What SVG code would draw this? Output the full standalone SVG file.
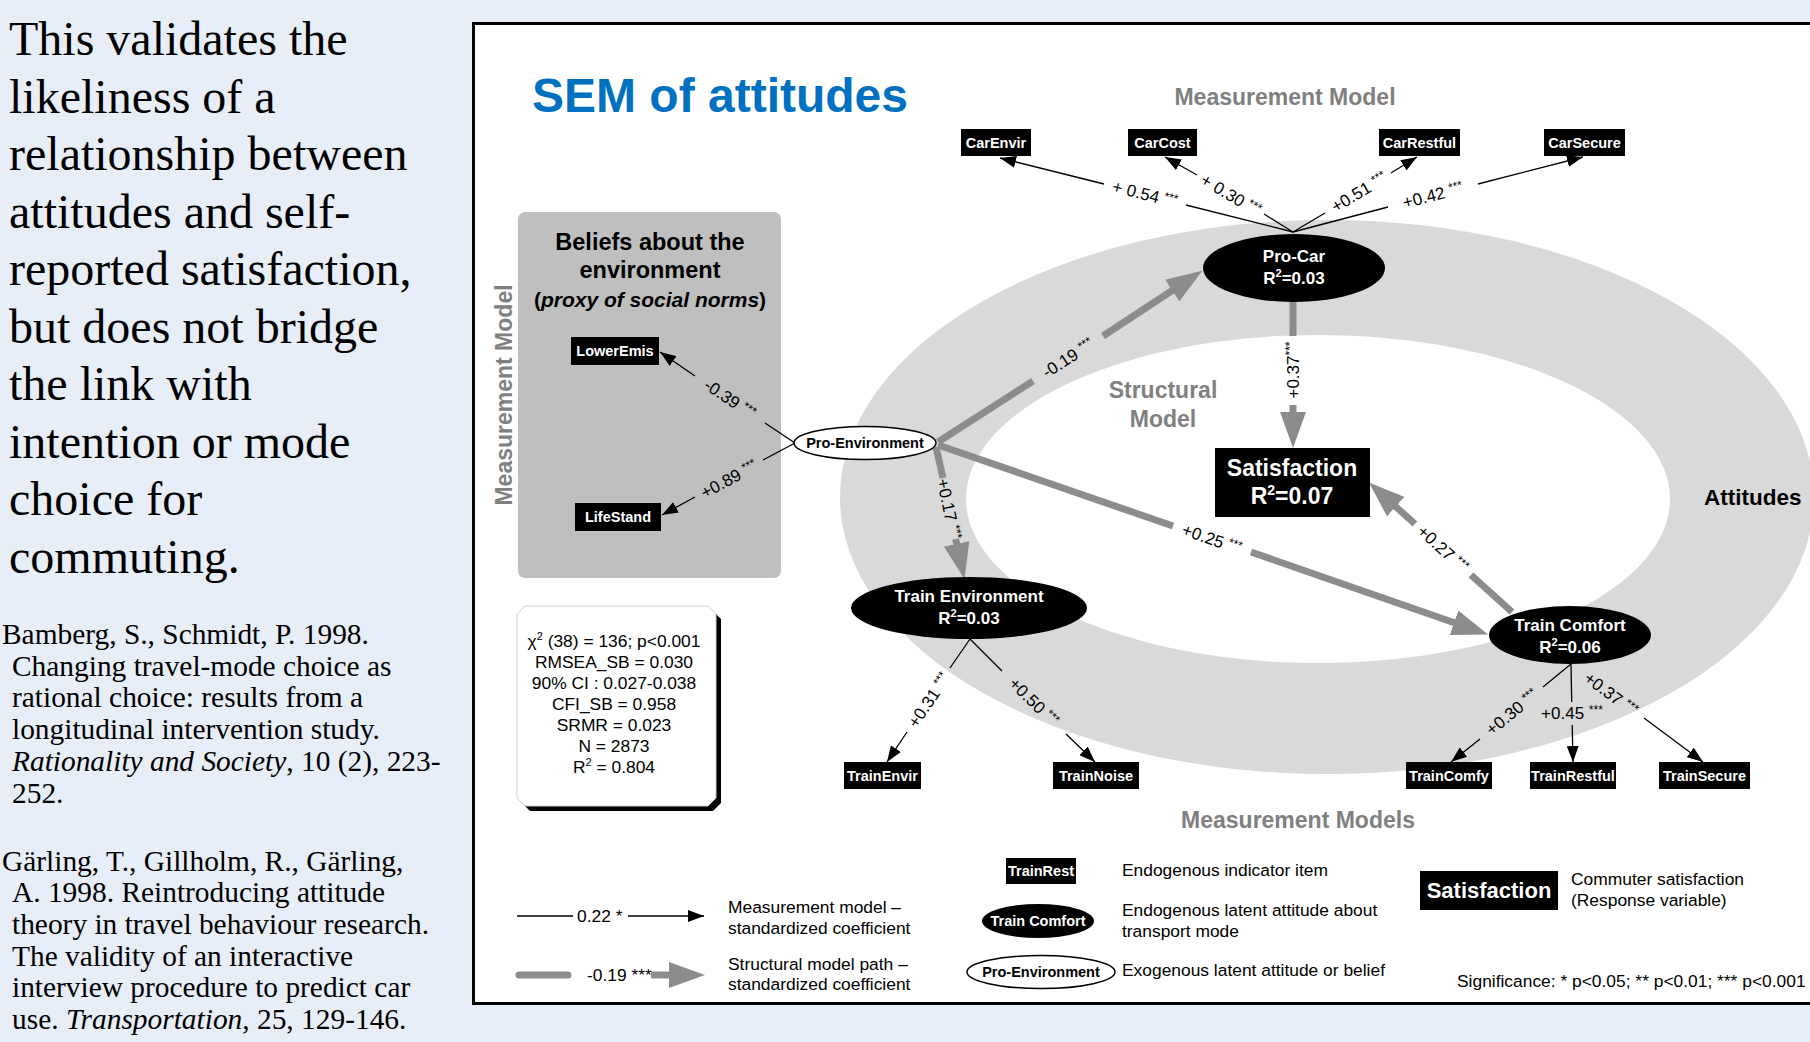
<svg xmlns="http://www.w3.org/2000/svg" width="1810" height="1042" viewBox="0 0 1810 1042">
<defs>
<style>
.sans{font-family:"Liberation Sans",Arial,sans-serif}
.serif{font-family:"Liberation Serif","Times New Roman",serif}
.big{font-size:48px;fill:#000}
.ref{font-size:29.4px;fill:#000}
.ib{fill:#000}
.ibt{font-family:"Liberation Sans",Arial,sans-serif;font-size:14.5px;font-weight:bold;fill:#fff;text-anchor:middle}
.elt{font-family:"Liberation Sans",Arial,sans-serif;font-size:17px;font-weight:bold;fill:#fff;text-anchor:middle}
.sat{font-family:"Liberation Sans",Arial,sans-serif;font-size:23px;font-weight:bold;fill:#fff;text-anchor:middle}
.hdr{font-family:"Liberation Sans",Arial,sans-serif;font-size:23px;font-weight:bold;fill:#808080;text-anchor:middle}
.lab{font-family:"Liberation Sans",Arial,sans-serif;font-size:17px;fill:#000;text-anchor:middle}
.st{font-size:12px}
.leg{font-family:"Liberation Sans",Arial,sans-serif;font-size:17.4px;fill:#000}
.thin{fill:none;stroke:#000;stroke-width:1.3}
.thick{fill:none;stroke:#8C8C8C;stroke-width:7}
</style>
<marker id="ah" markerUnits="userSpaceOnUse" markerWidth="16" markerHeight="12" refX="16" refY="6" orient="auto"><path d="M0,0 L16,6 L0,12 z" fill="#000"/></marker>
<marker id="gh" markerUnits="userSpaceOnUse" markerWidth="36" markerHeight="26" refX="1" refY="13" orient="auto"><path d="M0,0 L36,13 L0,26 z" fill="#8C8C8C"/></marker>
</defs>
<rect x="0" y="0" width="1810" height="1042" fill="#E7EEF8"/>

<g id="left-text" class="serif">
<text class="big" x="9" y="55">This validates the</text>
<text class="big" x="9" y="112.5">likeliness of a</text>
<text class="big" x="9" y="170">relationship between</text>
<text class="big" x="9" y="227.5">attitudes and self-</text>
<text class="big" x="9" y="285">reported satisfaction,</text>
<text class="big" x="9" y="342.5">but does not bridge</text>
<text class="big" x="9" y="400">the link with</text>
<text class="big" x="9" y="457.5">intention or mode</text>
<text class="big" x="9" y="515">choice for</text>
<text class="big" x="9" y="572.5">commuting.</text>
</g>
<g id="references" class="serif">
<text class="ref" x="2" y="644">Bamberg, S., Schmidt, P. 1998.</text>
<text class="ref" x="12" y="676">Changing travel-mode choice as</text>
<text class="ref" x="12" y="707">rational choice: results from a</text>
<text class="ref" x="12" y="739">longitudinal intervention study.</text>
<text class="ref" x="12" y="771"><tspan font-style="italic">Rationality and Society</tspan>, 10 (2), 223-</text>
<text class="ref" x="12" y="803">252.</text>
<text class="ref" x="2" y="871">Gärling, T., Gillholm, R., Gärling,</text>
<text class="ref" x="12" y="902">A. 1998. Reintroducing attitude</text>
<text class="ref" x="12" y="934">theory in travel behaviour research.</text>
<text class="ref" x="12" y="966">The validity of an interactive</text>
<text class="ref" x="12" y="997">interview procedure to predict car</text>
<text class="ref" x="12" y="1029">use. <tspan font-style="italic">Transportation</tspan>, 25, 129-146.</text>
</g>

<rect id="panel" x="473.5" y="23.5" width="1345" height="980" fill="#fff" stroke="#000" stroke-width="3"/>

<g id="ring">
<ellipse cx="1327" cy="497" rx="487" ry="277" fill="#D9D9D9"/>
<ellipse cx="1318" cy="499" rx="352" ry="164" fill="#fff"/>
</g>

<g id="title">
<text class="sans" x="532" y="112" font-size="48" font-weight="bold" fill="#0070C0">SEM of attitudes</text>
</g>

<g id="headers">
<text class="hdr" x="1285" y="105">Measurement Model</text>
<text class="hdr" transform="translate(512,395) rotate(-90)">Measurement Model</text>
<text class="hdr" x="1163" y="398">Structural</text>
<text class="hdr" x="1163" y="427">Model</text>
<text class="hdr" x="1298" y="828">Measurement Models</text>
<text class="sans" x="1704" y="505" font-size="22.5" font-weight="bold">Attitudes</text>
</g>

<g id="beliefs-box">
<rect x="518" y="212" width="263" height="366" rx="7" fill="#BFBFBF"/>
<text class="sans" x="650" y="250" font-size="23.5" font-weight="bold" text-anchor="middle">Beliefs about the</text>
<text class="sans" x="650" y="278" font-size="23.5" font-weight="bold" text-anchor="middle">environment</text>
<text class="sans" x="650" y="307" font-size="21" font-weight="bold" text-anchor="middle">(<tspan font-style="italic">proxy of social norms</tspan>)</text>
</g>

<g id="stats-box">
<polygon points="530,611 713,611 721,619 721,803 713,811 530,811 522,803 522,619" fill="#000"/>
<polygon points="525,606 708,606 716,614 716,798 708,806 525,806 517,798 517,614" fill="#fff" stroke="#CFCFCF" stroke-width="1"/>
<text class="leg" x="614" y="647" text-anchor="middle">χ<tspan dy="-7" font-size="11">2</tspan><tspan dy="7"> (38) = 136; p&lt;0.001</tspan></text>
<text class="leg" x="614" y="668" text-anchor="middle">RMSEA_SB = 0.030</text>
<text class="leg" x="614" y="689" text-anchor="middle">90% CI : 0.027-0.038</text>
<text class="leg" x="614" y="710" text-anchor="middle">CFI_SB = 0.958</text>
<text class="leg" x="614" y="731" text-anchor="middle">SRMR = 0.023</text>
<text class="leg" x="614" y="752" text-anchor="middle">N = 2873</text>
<text class="leg" x="614" y="773" text-anchor="middle">R<tspan dy="-7" font-size="11">2</tspan><tspan dy="7"> = 0.804</tspan></text>
</g>

<g id="connectors">
<path class="thin" d="M1293,232 L1186,205 M1104,184 L1000,158" marker-end="url(#ah)"/>
<text class="lab" transform="translate(1145,194) rotate(14.2)" y="6">+ 0.54 <tspan class="st" dy="-5">***</tspan></text>
<path class="thin" d="M1293,232 L1264,214 M1197,175 L1165,157" marker-end="url(#ah)"/>
<text class="lab" transform="translate(1231,195) rotate(30.4)" y="6">+ 0.30 <tspan class="st" dy="-5">***</tspan></text>
<path class="thin" d="M1293,232 L1325,213 M1391,173 L1417,157" marker-end="url(#ah)"/>
<text class="lab" transform="translate(1359,192) rotate(-31)" y="6">+0.51 <tspan class="st" dy="-5">***</tspan></text>
<path class="thin" d="M1293,232 L1388,207 M1478,184 L1583,157" marker-end="url(#ah)"/>
<text class="lab" transform="translate(1433,195) rotate(-14.5)" y="6">+0.42 <tspan class="st" dy="-5">***</tspan></text>

<path class="thin" d="M795,443 L765,423 M695,376 L660,352" marker-end="url(#ah)"/>
<text class="lab" transform="translate(730,399) rotate(34)" y="6">-0.39 <tspan class="st" dy="-5">***</tspan></text>
<path class="thin" d="M795,443 L763,460 M695,497 L662,515" marker-end="url(#ah)"/>
<text class="lab" transform="translate(729,479) rotate(-28.4)" y="6">+0.89 <tspan class="st" dy="-5">***</tspan></text>

<path class="thin" d="M970,639 L950,668 M907,732 L887,762" marker-end="url(#ah)"/>
<text class="lab" transform="translate(929,700) rotate(-56)" y="6">+0.31 <tspan class="st" dy="-5">***</tspan></text>
<path class="thin" d="M970,639 L1002,671 M1066,734 L1095,762" marker-end="url(#ah)"/>
<text class="lab" transform="translate(1034,702) rotate(44.5)" y="6">+0.50 <tspan class="st" dy="-5">***</tspan></text>

<path class="thin" d="M1571,664 L1543,687 M1480,739 L1451,762" marker-end="url(#ah)"/>
<text class="lab" transform="translate(1512,712) rotate(-39.2)" y="6">+0.30 <tspan class="st" dy="-5">***</tspan></text>
<path class="thin" d="M1571,664 L1571.7,702 M1572.2,725 L1573,762" marker-end="url(#ah)"/>
<text class="lab" x="1572" y="719">+0.45 <tspan class="st" dy="-5">***</tspan></text>
<path class="thin" d="M1644,718 L1703,762" marker-end="url(#ah)"/>
<text class="lab" transform="translate(1611,694) rotate(36.6)" y="6">+0.37 <tspan class="st" dy="-5">***</tspan></text>

<path class="thick" d="M938,442 L1033,381 M1103,336 L1173,290" marker-end="url(#gh)"/>
<text class="lab" transform="translate(1068,358) rotate(-32.8)" y="6">-0.19 <tspan class="st" dy="-5">***</tspan></text>
<path class="thick" d="M1293,301 L1293,336 M1293,405 L1293,413" marker-end="url(#gh)"/>
<text class="lab" transform="translate(1293,370) rotate(-90)" y="6">+0.37<tspan class="st" dy="-5">***</tspan></text>
<path class="thick" d="M938,445 L1173,526 M1251,552 L1455,623" marker-end="url(#gh)"/>
<text class="lab" transform="translate(1212,539) rotate(19)" y="6">+0.25 <tspan class="st" dy="-5">***</tspan></text>
<path class="thick" d="M1512,612 L1471,575 M1415,524 L1395,506" marker-end="url(#gh)"/>
<text class="lab" transform="translate(1443,549) rotate(42.2)" y="6">+0.27 <tspan class="st" dy="-5">***</tspan></text>
<path class="thick" d="M936,447 L943,478 M955.6,538.9 L956.9,544.8" marker-end="url(#gh)"/>
<text class="lab" transform="translate(949,509) rotate(77.9)" y="6">+0.17 <tspan class="st" dy="-5">***</tspan></text>
</g>

<g id="node-CarEnvir"><rect class="ib" x="961" y="129" width="70" height="27"/><text class="ibt" x="996" y="148">CarEnvir</text></g>
<g id="node-CarCost"><rect class="ib" x="1128" y="129" width="69" height="27"/><text class="ibt" x="1162.5" y="148">CarCost</text></g>
<g id="node-CarRestful"><rect class="ib" x="1379" y="129" width="81" height="27"/><text class="ibt" x="1419.5" y="148">CarRestful</text></g>
<g id="node-CarSecure"><rect class="ib" x="1544" y="129" width="81" height="27"/><text class="ibt" x="1584.5" y="148">CarSecure</text></g>

<g id="node-ProCar"><ellipse cx="1294" cy="268" rx="91" ry="34"/><text class="elt" x="1294" y="262">Pro-Car</text><text class="elt" x="1294" y="284">R<tspan dy="-7" font-size="11">2</tspan><tspan dy="7">=0.03</tspan></text></g>

<g id="node-Satisfaction"><rect x="1215" y="448" width="155" height="69" fill="#000"/><text class="sat" x="1292" y="476">Satisfaction</text><text class="sat" x="1292" y="504">R<tspan dy="-9" font-size="14">2</tspan><tspan dy="9">=0.07</tspan></text></g>

<g id="node-ProEnvironment"><ellipse cx="865" cy="443" rx="71" ry="16.5" fill="#fff" stroke="#000" stroke-width="1.5"/><text class="sans" x="865" y="448" font-size="14.5" font-weight="bold" text-anchor="middle">Pro-Environment</text></g>

<g id="node-LowerEmis"><rect class="ib" x="571" y="337" width="88" height="28"/><text class="ibt" x="615" y="356">LowerEmis</text></g>
<g id="node-LifeStand"><rect class="ib" x="575" y="503" width="86" height="28"/><text class="ibt" x="618" y="522">LifeStand</text></g>

<g id="node-TrainEnvironment"><ellipse cx="969" cy="608" rx="118" ry="31"/><text class="elt" x="969" y="602">Train Environment</text><text class="elt" x="969" y="624">R<tspan dy="-7" font-size="11">2</tspan><tspan dy="7">=0.03</tspan></text></g>

<g id="node-TrainComfort"><ellipse cx="1570" cy="635" rx="81" ry="29"/><text class="elt" x="1570" y="631">Train Comfort</text><text class="elt" x="1570" y="653">R<tspan dy="-7" font-size="11">2</tspan><tspan dy="7">=0.06</tspan></text></g>

<g id="node-TrainEnvir"><rect class="ib" x="844" y="762" width="77" height="27"/><text class="ibt" x="882.5" y="781">TrainEnvir</text></g>
<g id="node-TrainNoise"><rect class="ib" x="1053" y="762" width="86" height="27"/><text class="ibt" x="1096" y="781">TrainNoise</text></g>
<g id="node-TrainComfy"><rect class="ib" x="1406" y="762" width="86" height="27"/><text class="ibt" x="1449" y="781">TrainComfy</text></g>
<g id="node-TrainRestful"><rect class="ib" x="1530" y="762" width="86" height="27"/><text class="ibt" x="1573" y="781">TrainRestful</text></g>
<g id="node-TrainSecure"><rect class="ib" x="1659" y="762" width="91" height="27"/><text class="ibt" x="1704.5" y="781">TrainSecure</text></g>

<g id="legend">
<path class="thin" d="M517,916 L573,916 M628,916 L704,916" marker-end="url(#ah)"/>
<text class="leg" x="577" y="922">0.22 *</text>
<path d="M519,975 L568,975" stroke="#8C8C8C" stroke-width="7" stroke-linecap="round" fill="none"/>
<path class="thick" d="M651,975 L670,975" marker-end="url(#gh)"/>
<text class="leg" x="587" y="981">-0.19 ***</text>
<text class="leg" x="728" y="913">Measurement model –</text>
<text class="leg" x="728" y="934">standardized coefficient</text>
<text class="leg" x="728" y="970">Structural model path –</text>
<text class="leg" x="728" y="990">standardized coefficient</text>

<rect class="ib" x="1006" y="858" width="70" height="26"/><text class="ibt" x="1041" y="876">TrainRest</text>
<ellipse cx="1038" cy="921" rx="56" ry="17" fill="#000"/><text class="ibt" x="1038" y="926">Train Comfort</text>
<ellipse cx="1041" cy="972" rx="74" ry="16.5" fill="#fff" stroke="#000" stroke-width="1.5"/><text class="sans" x="1041" y="977" font-size="14.5" font-weight="bold" text-anchor="middle">Pro-Environment</text>
<text class="leg" x="1122" y="876">Endogenous indicator item</text>
<text class="leg" x="1122" y="916">Endogenous latent attitude about</text>
<text class="leg" x="1122" y="937">transport mode</text>
<text class="leg" x="1122" y="976">Exogenous latent attitude or belief</text>

<rect class="ib" x="1420" y="871" width="138" height="39"/><text class="sans" x="1489" y="898" font-size="22" font-weight="bold" fill="#fff" text-anchor="middle">Satisfaction</text>
<text class="leg" x="1571" y="885">Commuter satisfaction</text>
<text class="leg" x="1571" y="906">(Response variable)</text>
<text class="leg" x="1457" y="987">Significance: * p&lt;0.05; ** p&lt;0.01; *** p&lt;0.001</text>
</g>
</svg>
